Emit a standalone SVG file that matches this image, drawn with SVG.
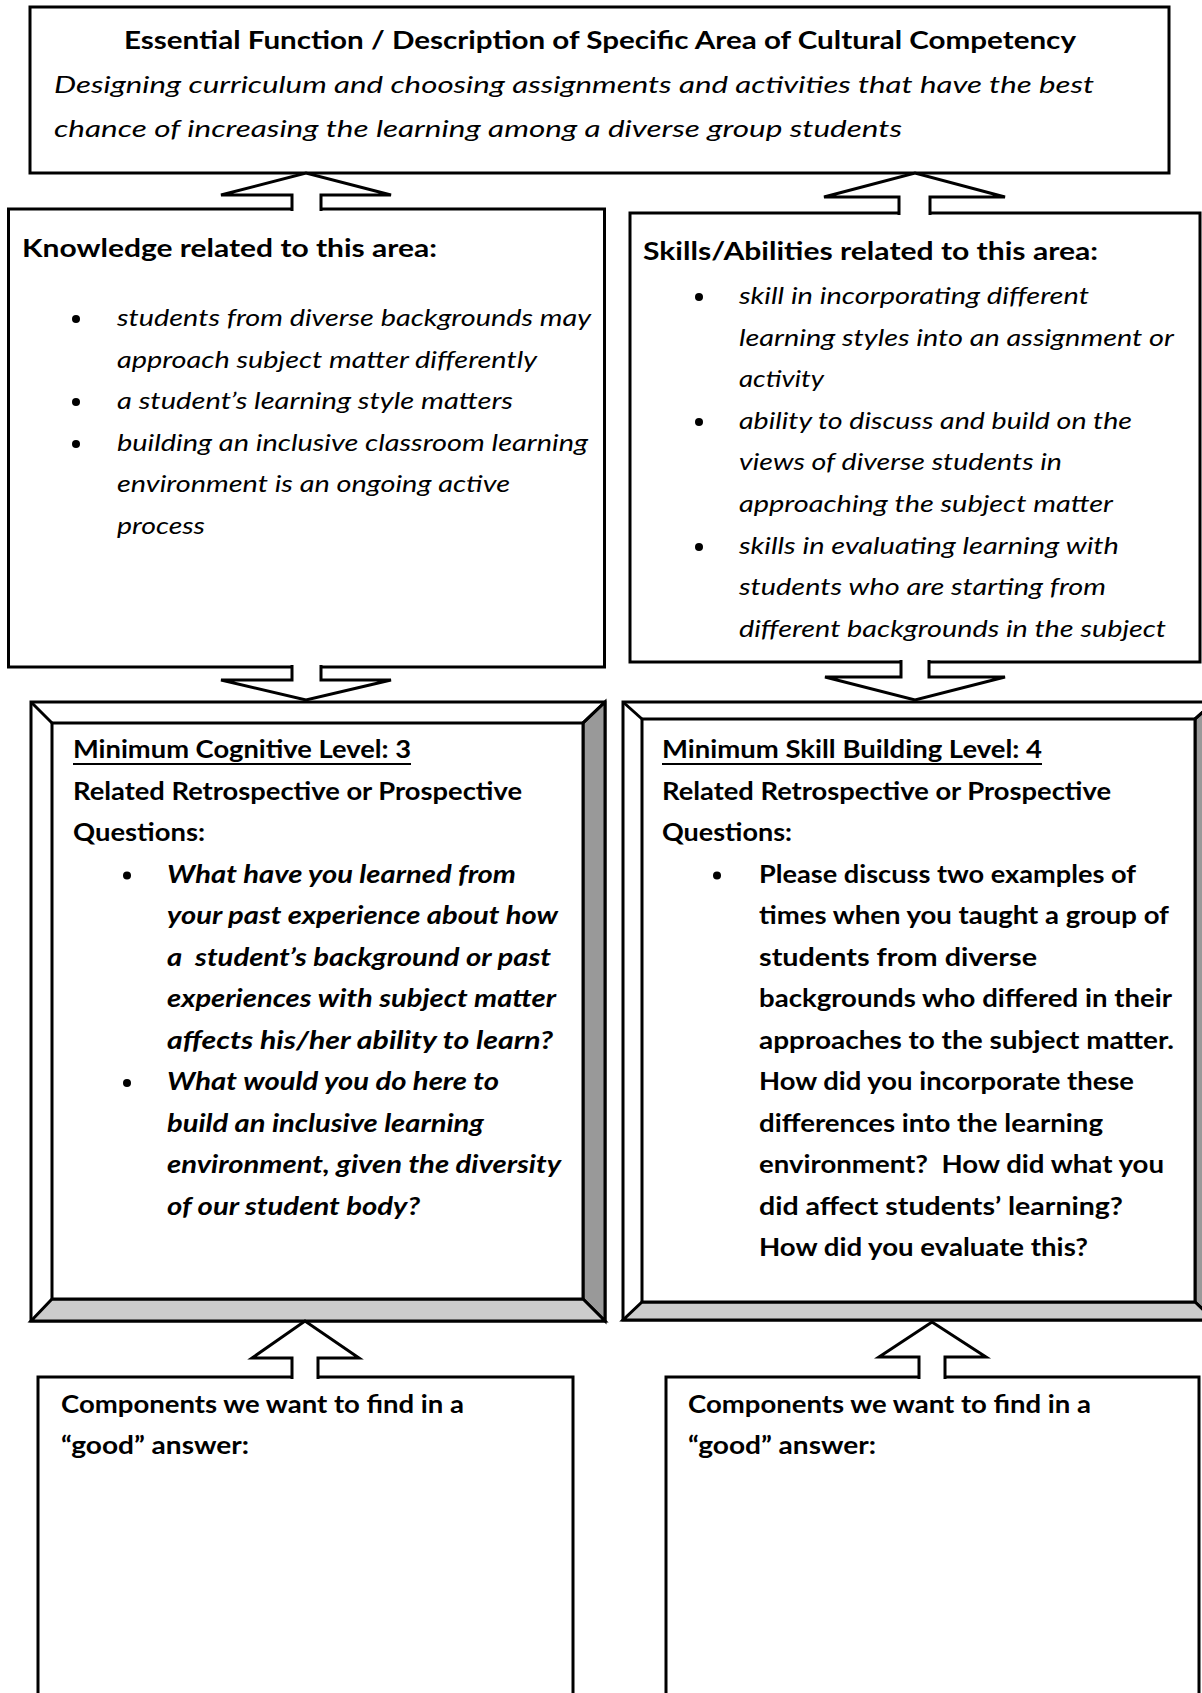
<svg xmlns="http://www.w3.org/2000/svg" width="1202" height="1693" viewBox="0 0 1202 1693">
<style>
.box{fill:#fff;stroke:#000;stroke-width:3}
.ln{fill:none;stroke:#000;stroke-width:3}
.ul{fill:none;stroke:#000;stroke-width:2}
.dk{fill:#999;stroke:#000;stroke-width:3;stroke-linejoin:miter}
.lt{fill:#ccc;stroke:#000;stroke-width:3;stroke-linejoin:miter}
.arr{fill:#fff;stroke:#000;stroke-width:3;stroke-linejoin:miter;stroke-miterlimit:4}
text{font-family:Lato,"Open Sans","Liberation Sans",sans-serif;font-size:24px;fill:#000}
.b{font-weight:700}
.i{font-style:italic}
.h{font-size:25px}
.dot{fill:#000}
</style>
<rect width="1202" height="1693" fill="#fff"/>

<g id="essential-function">
<rect class="box" x="30" y="7" width="1139" height="166"/>
<text class="b" x="124" y="49" textLength="952" lengthAdjust="spacingAndGlyphs">Essential Function / Description of Specific Area of Cultural Competency</text>
<text class="i" x="54" y="93" textLength="1040" lengthAdjust="spacingAndGlyphs">Designing curriculum and choosing assignments and activities that have the best</text>
<text class="i" x="54" y="137" textLength="848" lengthAdjust="spacingAndGlyphs">chance of increasing the learning among a diverse group students</text>
</g>

<g id="knowledge">
<rect class="box" x="8.5" y="209" width="596" height="458"/>
<text class="b h" x="22" y="257" textLength="415" lengthAdjust="spacingAndGlyphs">Knowledge related to this area:</text>
<circle class="dot" cx="76" cy="319" r="4"/>
<circle class="dot" cx="76" cy="402" r="4"/>
<circle class="dot" cx="76" cy="444" r="4"/>
<text class="i" x="117" y="326" textLength="474" lengthAdjust="spacingAndGlyphs">students from diverse backgrounds may</text>
<text class="i" x="117" y="367.6" textLength="420" lengthAdjust="spacingAndGlyphs">approach subject matter differently</text>
<text class="i" x="117" y="409" textLength="396" lengthAdjust="spacingAndGlyphs">a student’s learning style matters</text>
<text class="i" x="117" y="450.8" textLength="471" lengthAdjust="spacingAndGlyphs">building an inclusive classroom learning</text>
<text class="i" x="117" y="492.4" textLength="393" lengthAdjust="spacingAndGlyphs">environment is an ongoing active</text>
<text class="i" x="117" y="534" textLength="88" lengthAdjust="spacingAndGlyphs">process</text>
</g>

<g id="skills">
<rect class="box" x="630" y="213" width="570" height="449"/>
<text class="b h" x="643" y="260" textLength="455" lengthAdjust="spacingAndGlyphs">Skills/Abilities related to this area:</text>
<circle class="dot" cx="699" cy="297" r="4"/>
<circle class="dot" cx="699" cy="422" r="4"/>
<circle class="dot" cx="699" cy="547" r="4"/>
<text class="i" x="739" y="304" textLength="350" lengthAdjust="spacingAndGlyphs">skill in incorporating different</text>
<text class="i" x="739" y="345.6" textLength="435" lengthAdjust="spacingAndGlyphs">learning styles into an assignment or</text>
<text class="i" x="739" y="387.2" textLength="85" lengthAdjust="spacingAndGlyphs">activity</text>
<text class="i" x="739" y="428.8" textLength="393" lengthAdjust="spacingAndGlyphs">ability to discuss and build on the</text>
<text class="i" x="739" y="470.4" textLength="323" lengthAdjust="spacingAndGlyphs">views of diverse students in</text>
<text class="i" x="739" y="512" textLength="374" lengthAdjust="spacingAndGlyphs">approaching the subject matter</text>
<text class="i" x="739" y="553.6" textLength="380" lengthAdjust="spacingAndGlyphs">skills in evaluating learning with</text>
<text class="i" x="739" y="595.2" textLength="367" lengthAdjust="spacingAndGlyphs">students who are starting from</text>
<text class="i" x="739" y="636.8" textLength="427" lengthAdjust="spacingAndGlyphs">different backgrounds in the subject</text>
</g>

<g id="cognitive-level">
<rect class="box" x="31" y="702" width="574" height="619"/>
<polygon class="dk" points="605,702 605,1321 583,1299 583,723"/>
<polygon class="lt" points="31,1321 605,1321 583,1299 52,1299"/>
<rect class="box" x="52" y="723" width="531" height="576"/>
<line class="ln" x1="31" y1="702" x2="52" y2="723"/>
<line class="ln" x1="605" y1="702" x2="583" y2="723"/>
<text class="b" x="73" y="758" textLength="338" lengthAdjust="spacingAndGlyphs">Minimum Cognitive Level: 3</text>
<line class="ul" x1="73" y1="764" x2="411" y2="764"/>
<text class="b" x="73" y="799.5" textLength="449" lengthAdjust="spacingAndGlyphs">Related Retrospective or Prospective</text>
<text class="b" x="73" y="841" textLength="132" lengthAdjust="spacingAndGlyphs">Questions:</text>
<circle class="dot" cx="127" cy="875.5" r="4"/>
<circle class="dot" cx="127" cy="1083" r="4"/>
<text class="b i" x="167" y="882.5" textLength="349" lengthAdjust="spacingAndGlyphs">What have you learned from</text>
<text class="b i" x="167" y="924" textLength="391" lengthAdjust="spacingAndGlyphs">your past experience about how</text>
<text class="b i" x="167" y="965.5" textLength="384" lengthAdjust="spacingAndGlyphs" xml:space="preserve">a  student’s background or past</text>
<text class="b i" x="167" y="1007" textLength="389" lengthAdjust="spacingAndGlyphs">experiences with subject matter</text>
<text class="b i" x="167" y="1048.5" textLength="386" lengthAdjust="spacingAndGlyphs">affects his/her ability to learn?</text>
<text class="b i" x="167" y="1090" textLength="332" lengthAdjust="spacingAndGlyphs">What would you do here to</text>
<text class="b i" x="167" y="1131.5" textLength="317" lengthAdjust="spacingAndGlyphs">build an inclusive learning</text>
<text class="b i" x="167" y="1173" textLength="394" lengthAdjust="spacingAndGlyphs">environment, given the diversity</text>
<text class="b i" x="167" y="1214.5" textLength="253" lengthAdjust="spacingAndGlyphs">of our student body?</text>
</g>

<g id="skill-level">
<rect class="box" x="623" y="702" width="591" height="618"/>
<polygon class="dk" points="1214,702 1214,1320 1195,1302 1195,719"/>
<polygon class="lt" points="623,1320 1214,1320 1195,1302 642,1302"/>
<rect class="box" x="642" y="719" width="553" height="583"/>
<line class="ln" x1="623" y1="702" x2="642" y2="719"/>
<line class="ln" x1="1214" y1="702" x2="1195" y2="719"/>
<text class="b" x="662" y="758" textLength="380" lengthAdjust="spacingAndGlyphs">Minimum Skill Building Level: 4</text>
<line class="ul" x1="662" y1="764" x2="1042" y2="764"/>
<text class="b" x="662" y="799.5" textLength="449" lengthAdjust="spacingAndGlyphs">Related Retrospective or Prospective</text>
<text class="b" x="662" y="841" textLength="130" lengthAdjust="spacingAndGlyphs">Questions:</text>
<circle class="dot" cx="717" cy="875.5" r="4"/>
<text class="b" x="759" y="882.5" textLength="377" lengthAdjust="spacingAndGlyphs">Please discuss two examples of</text>
<text class="b" x="759" y="924" textLength="410" lengthAdjust="spacingAndGlyphs">times when you taught a group of</text>
<text class="b" x="759" y="965.5" textLength="278" lengthAdjust="spacingAndGlyphs">students from diverse</text>
<text class="b" x="759" y="1007" textLength="413" lengthAdjust="spacingAndGlyphs">backgrounds who differed in their</text>
<text class="b" x="759" y="1048.5" textLength="415" lengthAdjust="spacingAndGlyphs">approaches to the subject matter.</text>
<text class="b" x="759" y="1090" textLength="375" lengthAdjust="spacingAndGlyphs">How did you incorporate these</text>
<text class="b" x="759" y="1131.5" textLength="344" lengthAdjust="spacingAndGlyphs">differences into the learning</text>
<text class="b" x="759" y="1173" textLength="405" lengthAdjust="spacingAndGlyphs" xml:space="preserve">environment?  How did what you</text>
<text class="b" x="759" y="1214.5" textLength="364" lengthAdjust="spacingAndGlyphs">did affect students’ learning?</text>
<text class="b" x="759" y="1256" textLength="329" lengthAdjust="spacingAndGlyphs">How did you evaluate this?</text>
</g>

<g id="components-left">
<rect class="box" x="38" y="1377" width="535" height="400"/>
<text class="b" x="61" y="1413" textLength="403" lengthAdjust="spacingAndGlyphs">Components we want to find in a</text>
<text class="b" x="61" y="1454" textLength="188" lengthAdjust="spacingAndGlyphs">“good” answer:</text>
</g>

<g id="components-right">
<rect class="box" x="666" y="1377" width="533" height="400"/>
<text class="b" x="688" y="1413" textLength="403" lengthAdjust="spacingAndGlyphs">Components we want to find in a</text>
<text class="b" x="688" y="1454" textLength="188" lengthAdjust="spacingAndGlyphs">“good” answer:</text>
</g>

<g id="connectors">
<path class="arr" d="M292,211 L292,195 L221,195 L306,173 L391,195 L321,195 L321,211"/>
<path class="arr" d="M899,215 L899,197 L824,197 L915,173 L1005,197 L930,197 L930,215"/>
<path class="arr" d="M292,665 L292,680 L221,680 L306,700 L391,680 L321,680 L321,665"/>
<path class="arr" d="M901,660 L901,677 L825,677 L915,700 L1005,677 L929,677 L929,660"/>
<path class="arr" d="M292,1379 L292,1358 L252,1358 L305,1321 L359,1358 L318,1358 L318,1379"/>
<path class="arr" d="M919,1379 L919,1357 L879,1357 L932,1322 L986,1357 L945,1357 L945,1379"/>
</g>
</svg>
